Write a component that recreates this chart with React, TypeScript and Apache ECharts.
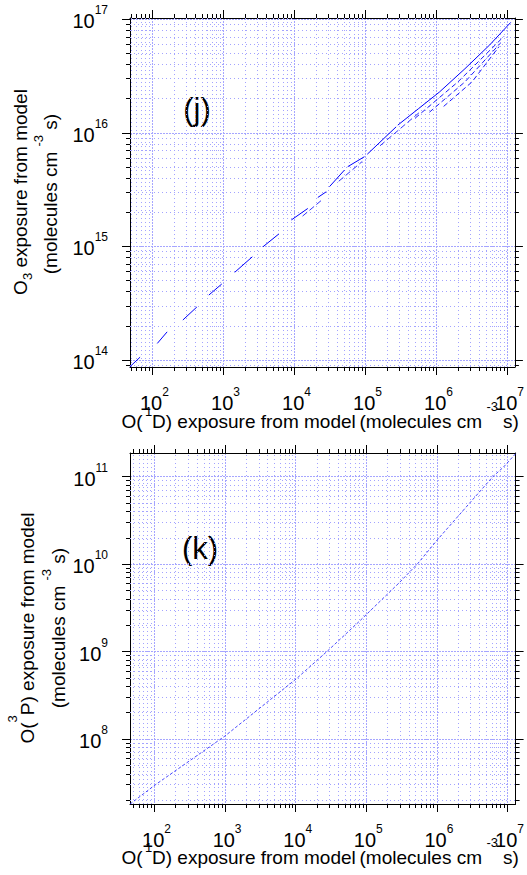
import React, { useEffect, useRef } from 'react';
import * as echarts from 'echarts';

const FONT = "'Liberation Sans', Arial, Helvetica, sans-serif";
const GAP = null;

// ---- Panel (j): O3 exposure vs O(1D) exposure ----
const jMainX = [48, 67, GAP, 117, 161, GAP, 268, 422, GAP, 622, 946, GAP, 1440, 2550, GAP, 3600, 6040, GAP, 9020, 15400, GAP, 21300, 28000, GAP, 31100, 50600, GAP, 56200, 96600, GAP, 1.06e5, 2.7e5, GAP, 2.85e5, 5.62e5, 1.1e6, 2.51e6, 5.62e6, 1.11e7];
const jMainY = [8.7e13, 1.06e14, GAP, 1.4e14, 1.77e14, GAP, 2.25e14, 2.93e14, GAP, 3.73e14, 4.67e14, GAP, 5.92e14, 8.11e14, GAP, 9.93e14, 1.29e15, GAP, 1.71e15, 2.16e15, GAP, 2.7e15, 3.03e15, GAP, 3.36e15, 4.71e15, GAP, 5.04e15, 6.17e15, GAP, 6.49e15, 1.13e16, GAP, 1.17e16, 1.64e16, 2.29e16, 3.67e16, 5.96e16, 9.4e16];
const jTwinX = [1.3e4, 2.4e4, GAP, 4.2e4, 9.0e4, GAP, 1.6e5, 6.0e5];
const jTwinY = [1.85e15, 2.55e15, GAP, 3.75e15, 5.6e15, GAP, 7.7e15, 1.55e16];
const jFan1X = [5.01e5, 2.0e6, 8.91e6];
const jFan1Y = [1.35e16, 2.81e16, 7.08e16];
const jFan2X = [7.94e5, 2.51e6, 7.94e6];
const jFan2Y = [1.52e16, 2.81e16, 6.17e16];
const jFan3X = [1.26e6, 3.16e6, 7.59e6];
const jFan3Y = [1.71e16, 2.81e16, 5.75e16];

// ---- Panel (k): O(3P) exposure vs O(1D) exposure ----
const kX = [45, 102, 993, 10260, 28400, 80700, 2.95e5, 5.38e5, 1.01e6, 6.19e6, 8.77e6, 1.3e7];
const kY = [1.8e7, 2.98e7, 1.08e8, 4.9e8, 1.02e9, 2.24e9, 6.17e9, 1.02e10, 1.89e10, 1.0e11, 1.29e11, 1.83e11];

// axis ranges
const jXRange = [48.3, 1.27e7];
const jYRange = [8.68e13, 1.027e17];
const kXRange = [45, 1.3e7];
const kYRange = [1.805e7, 1.867e11];

// major (labelled) decades
const xMajor = [100, 1e3, 1e4, 1e5, 1e6, 1e7];
const jYMajor = [1e14, 1e15, 1e16, 1e17];
const kYMajor = [1e8, 1e9, 1e10, 1e11];

// log minor tick positions (2..9 x 10^n) inside a range
const minorTicks = (range: number[]) => {
  const out: number[] = [];
  const lo = Math.floor(Math.log10(range[0]));
  const hi = Math.ceil(Math.log10(range[1]));
  for (let e = lo; e <= hi; e++) {
    for (let m = 2; m <= 9; m++) {
      const v = m * Math.pow(10, e);
      if (v > range[0] && v < range[1]) out.push(v);
    }
  }
  return out;
};

const toData = (xs: (number | null)[], ys: (number | null)[]) =>
  xs.map((x, i) => (x === null || ys[i] === null ? ['-', '-'] : [x, ys[i]]));

const powLabel = (v: number) => {
  const l = Math.log10(v);
  const e = Math.round(l);
  if (Math.abs(l - e) > 1e-6) return '';
  return `{b|10}{s|${e}}`;
};

const labelRich = {
  b: { fontFamily: FONT, fontSize: 20, lineHeight: 34, color: '#000' },
  s: { fontFamily: FONT, fontSize: 12, lineHeight: 14, verticalAlign: 'top', color: '#000' },
};

const majorGrid = { color: '#a6a6ff', type: [2, 1], width: 1 };
const minorGrid = { color: '#a3a3ff', type: [1, 3], width: 1 };

type Kind = 'x' | 'y';

function baseAxis(gridIndex: number, range: number[], position: string) {
  return {
    type: 'log',
    logBase: 10,
    gridIndex,
    min: range[0],
    max: range[1],
    position,
    axisLabel: { show: false },
    splitLine: { show: false },
    minorTick: { show: false },
    minorSplitLine: { show: false },
  };
}

// primary axis: frame line, major ticks, labels, major grid lines
function primaryAxis(kind: Kind, gridIndex: number, range: number[], major: number[]) {
  return {
    ...baseAxis(gridIndex, range, kind === 'x' ? 'bottom' : 'left'),
    axisLine: { show: true, onZero: false, lineStyle: { color: '#000', width: 1 } },
    axisTick: { show: true, length: 8, inside: false, customValues: major, lineStyle: { color: '#000', width: 1 } },
    splitLine: { show: true, lineStyle: majorGrid },
    axisLabel: {
      show: true,
      formatter: powLabel,
      rich: labelRich,
      margin: kind === 'x' ? 19 : 22,
      padding: kind === 'x' ? [0, 0, 0, 4] : [4, 0, 0, 0],
      showMinLabel: false,
      showMaxLabel: kind === 'x',
    },
  };
}

// opposite frame line with major ticks
function oppositeAxis(kind: Kind, gridIndex: number, range: number[], major: number[]) {
  return {
    ...baseAxis(gridIndex, range, kind === 'x' ? 'top' : 'right'),
    axisLine: { show: true, onZero: false, lineStyle: { color: '#000', width: 1 } },
    axisTick: { show: true, length: 8, inside: false, customValues: major, lineStyle: { color: '#000', width: 1 } },
  };
}

// minor ticks on one side
function minorTickAxis(gridIndex: number, range: number[], position: string) {
  return {
    ...baseAxis(gridIndex, range, position),
    axisLine: { show: false, onZero: false },
    axisTick: { show: true, length: 4, inside: false, customValues: minorTicks(range), lineStyle: { color: '#000', width: 1 } },
  };
}

// minor grid lines, drawn as inside ticks spanning the plot
function minorGridAxis(kind: Kind, gridIndex: number, range: number[], span: number) {
  return {
    ...baseAxis(gridIndex, range, kind === 'x' ? 'bottom' : 'left'),
    axisLine: { show: false, onZero: false },
    axisTick: { show: true, length: span, inside: true, customValues: minorTicks(range), lineStyle: minorGrid },
  };
}

const GRID_J = { left: 130, top: 18, width: 386, height: 349 };
const GRID_K = { left: 130, top: 453, width: 386, height: 351 };

function textEl(x: number, y: number, text: string, fontSize: number, align = 'left', rotation = 0, rich?: any) {
  return {
    type: 'text',
    x,
    y,
    rotation,
    silent: true,
    style: {
      text,
      rich,
      fontFamily: FONT,
      fontSize,
      fill: '#000',
      align,
      verticalAlign: 'middle',
      textAlign: align,
      textVerticalAlign: 'middle',
    },
  };
}

// x title built from pieces placed like the reference
function xTitle(yc: number) {
  return [
    textEl(121.5, yc, 'O(', 19),
    textEl(145, yc - 10, '1', 13),
    textEl(152, yc, 'D) exposure from model', 19),
    textEl(482, yc, '(molecules cm', 19, 'right'),
    textEl(486.5, yc - 15, '-3', 13),
    textEl(503, yc, 's)', 19),
  ];
}

export default function App() {
  const ref = useRef<HTMLDivElement>(null);
  useEffect(() => {
    if (!ref.current) return;
    const chart = echarts.init(ref.current, undefined, { renderer: 'svg' });
    const lineBase = {
      type: 'line',
      showSymbol: false,
      symbol: 'none',
      connectNulls: false,
      silent: true,
      clip: true,
    };
    const option: any = {
      animation: false,
      backgroundColor: '#fff',
      textStyle: { fontFamily: FONT },
      grid: [
        { ...GRID_J, containLabel: false },
        { ...GRID_K, containLabel: false },
      ],
      xAxis: [
        primaryAxis('x', 0, jXRange, xMajor), // 0
        primaryAxis('x', 1, kXRange, xMajor), // 1
        minorGridAxis('x', 0, jXRange, GRID_J.height),
        minorGridAxis('x', 1, kXRange, GRID_K.height),
        oppositeAxis('x', 0, jXRange, xMajor),
        oppositeAxis('x', 1, kXRange, xMajor),
        minorTickAxis(0, jXRange, 'bottom'),
        minorTickAxis(0, jXRange, 'top'),
        minorTickAxis(1, kXRange, 'bottom'),
        minorTickAxis(1, kXRange, 'top'),
      ],
      yAxis: [
        primaryAxis('y', 0, jYRange, jYMajor), // 0
        primaryAxis('y', 1, kYRange, kYMajor), // 1
        minorGridAxis('y', 0, jYRange, GRID_J.width),
        minorGridAxis('y', 1, kYRange, GRID_K.width),
        oppositeAxis('y', 0, jYRange, jYMajor),
        oppositeAxis('y', 1, kYRange, kYMajor),
        minorTickAxis(0, jYRange, 'left'),
        minorTickAxis(0, jYRange, 'right'),
        minorTickAxis(1, kYRange, 'left'),
        minorTickAxis(1, kYRange, 'right'),
      ],
      series: [
        { ...lineBase, xAxisIndex: 0, yAxisIndex: 0, data: toData(jMainX, jMainY), lineStyle: { color: '#0000ff', width: 1 } },
        { ...lineBase, xAxisIndex: 0, yAxisIndex: 0, data: toData(jTwinX, jTwinY), lineStyle: { color: '#3333ff', width: 1, type: [6, 3] } },
        { ...lineBase, xAxisIndex: 0, yAxisIndex: 0, data: toData(jFan1X, jFan1Y), lineStyle: { color: '#1a1aff', width: 1, type: [5, 3] } },
        { ...lineBase, xAxisIndex: 0, yAxisIndex: 0, data: toData(jFan2X, jFan2Y), lineStyle: { color: '#1a1aff', width: 1, type: [5, 3] } },
        { ...lineBase, xAxisIndex: 0, yAxisIndex: 0, data: toData(jFan3X, jFan3Y), lineStyle: { color: '#1a1aff', width: 1, type: [5, 3] } },
        { ...lineBase, xAxisIndex: 1, yAxisIndex: 1, data: toData(kX, kY), lineStyle: { color: '#2a2aff', width: 1, type: [3, 2], opacity: 0.85 } },
      ],
      graphic: [
        textEl(197, 109, '(j)', 31, 'center'),
        textEl(200, 548, '(k)', 31, 'center'),
        ...xTitle(421),
        ...xTitle(857),
        textEl(20, 192, '{b|O}{sub|3}{b| exposure from model}', 19, 'center', Math.PI / 2, {
          b: { fontFamily: FONT, fontSize: 19, lineHeight: 28, fill: '#000', color: '#000' },
          sub: { fontFamily: FONT, fontSize: 13, lineHeight: 13, verticalAlign: 'bottom', fill: '#000', color: '#000' },
        }),
        textEl(50, 194, '{b|(molecules cm }{sup|-3}{b| s)}', 19, 'center', Math.PI / 2, {
          b: { fontFamily: FONT, fontSize: 19, lineHeight: 36, fill: '#000', color: '#000' },
          sup: { fontFamily: FONT, fontSize: 13, lineHeight: 13, verticalAlign: 'top', fill: '#000', color: '#000' },
        }),
        textEl(27, 628, '{b|O(}{sup|3}{b|P) exposure from model}', 19, 'center', Math.PI / 2, {
          b: { fontFamily: FONT, fontSize: 19, lineHeight: 42, fill: '#000', color: '#000' },
          sup: { fontFamily: FONT, fontSize: 13, lineHeight: 13, verticalAlign: 'top', fill: '#000', color: '#000' },
        }),
        textEl(58, 628, '{b|(molecules cm }{sup|-3}{b| s)}', 19, 'center', Math.PI / 2, {
          b: { fontFamily: FONT, fontSize: 19, lineHeight: 36, fill: '#000', color: '#000' },
          sup: { fontFamily: FONT, fontSize: 13, lineHeight: 13, verticalAlign: 'top', fill: '#000', color: '#000' },
        }),
      ],
    };
    chart.setOption(option);
    return () => chart.dispose();
  }, []);
  return <div ref={ref} style={{ position: 'absolute', left: 0, top: 0, width: 527, height: 875 }} />;
}
